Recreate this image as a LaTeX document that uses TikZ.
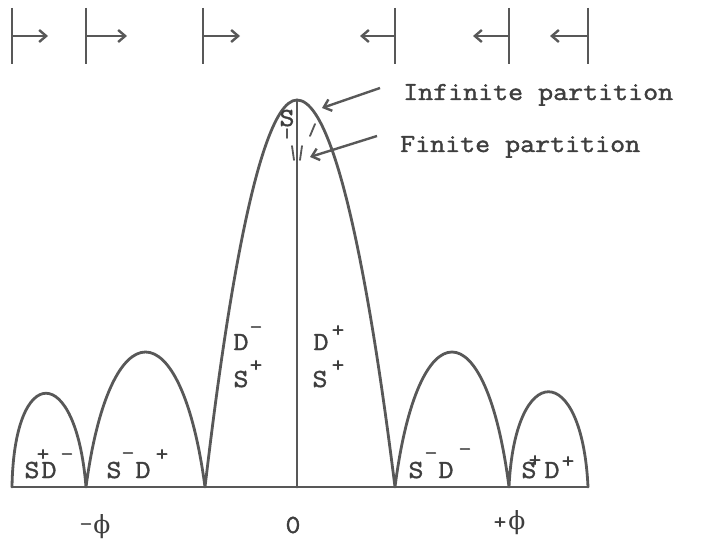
\documentclass[tikz,border=0pt]{standalone}
\usepackage{fontspec}
\newfontfamily\tw{Latin Modern Mono}[FakeStretch=1.12,FakeBold=1.5]
\newfontfamily\gk{DejaVu Serif}
\usetikzlibrary{arrows.meta}
\definecolor{ink}{HTML}{585858}
\definecolor{txt}{HTML}{3E3E3E}
\begin{document}
\begin{tikzpicture}[x=1pt,y=-1pt,
  curve/.style={draw=ink,line width=2.8pt,line join=round,line cap=round},
  tick/.style={draw=ink,line width=2.4pt},
  thin/.style={draw=ink,line width=1.8pt,line cap=round},
  barb/.style={-{Straight Barb[length=7pt,width=12pt,line width=2.4pt]}},
  lbl/.style={font=\fontsize{26}{30}\selectfont\tw,text=txt,inner sep=0pt},
  sgn/.style={font=\fontsize{22}{26}\selectfont\tw,text=txt,inner sep=0pt},
  grk/.style={font=\fontsize{25}{30}\selectfont\gk,text=txt,inner sep=0pt}]
\fill[white] (0,0) rectangle (703,545);
\useasboundingbox (0,0) rectangle (703,545);

% top markers
\foreach \x/\d [count=\i] in {12/36, 86/41, 203/37, 395/-35, 509/-36, 588/-38} {
  \coordinate (mt\i) at (\x,8);
  \coordinate (mb\i) at (\x,64);
  \coordinate (ms\i) at (\x,36);
  \coordinate (me\i) at (\x+\d,36);
  \draw[tick] (mt\i) -- (mb\i);
  \draw[tick,barb] (ms\i) -- (me\i);
}

% lobes
\coordinate (b0) at (12,487);
\coordinate (b1) at (86,487);
\coordinate (b2) at (205,487);
\coordinate (pk) at (297,100);
\coordinate (c0) at (297,487);
\coordinate (b3) at (395,487);
\coordinate (b4) at (509,487);
\coordinate (b5) at (588,487);
\draw[curve] (b0) -- (b5);
\draw[curve] (b0) .. controls (14,362) and (76,362) .. (b1)
  .. controls (110,307) and (181,307) .. (b2)
  parabola bend (pk) (b3)
  .. controls (418,307) and (486,307) .. (b4)
  .. controls (515,360) and (582,360) .. (b5);
\draw[curve] (pk) -- (c0);

% partition marks near the top
\draw[thin] (287,129) -- (287,138);
\draw[thin] (315,124) -- (310,136);
\draw[thin] (292,146) -- (294,160);
\draw[thin] (302,146) -- (300,160);

% labels with arrows
\node[lbl,anchor=base west] (inf) at (403,100) {Infinite partition};
\node[lbl,anchor=base west] (fin) at (400,152) {Finite partition};
\coordinate (ia) at (380,88);
\coordinate (it) at (322,108);
\coordinate (fa) at (377,136);
\coordinate (ft) at (310,157);
\draw[tick,barb] (ia) -- (it);
\draw[tick,barb] (fa) -- (ft);

% letters
\node[lbl,anchor=base] (stop) at (287,126) {S};
\node[lbl,anchor=base] (dl) at (241,350) {D};
\node[lbl,anchor=base] (sl) at (241,387) {S};
\node[lbl,anchor=base] (dr) at (321,350) {D};
\node[lbl,anchor=base] (sr) at (320,387) {S};
\node[lbl,anchor=base] (s1) at (32,478) {S};
\node[lbl,anchor=base] (d1) at (49,478) {D};
\node[lbl,anchor=base] (s2) at (114,478) {S};
\node[lbl,anchor=base] (d2) at (143,478) {D};
\node[lbl,anchor=base] (s3) at (416,478) {S};
\node[lbl,anchor=base] (d3) at (446,478) {D};
\node[lbl,anchor=base] (s4) at (529,478) {S};
\node[lbl,anchor=base] (d4) at (552,478) {D};

% signs
\node[sgn] (gdl) at (256,330) {–};
\node[sgn] (gsl) at (256,366) {+};
\node[sgn] (gdr) at (338,331) {+};
\node[sgn] (gsr) at (338,366) {+};
\node[sgn] (g1a) at (43,455) {+};
\node[sgn] (g1b) at (67,457) {–};
\node[sgn] (g2a) at (128,456) {–};
\node[sgn] (g2b) at (162,455) {+};
\node[sgn] (g3a) at (431,456) {–};
\node[sgn] (g3b) at (465,452) {–};
\node[sgn] (g4a) at (535,461) {+};
\node[sgn] (g4b) at (568,462) {+};

% axis labels
\node[sgn] (mn) at (86,527) {–};
\node[grk] (phl) at (102,527) {ϕ};
\node[lbl] (zero) at (293,525) {0};
\node[sgn] (pl) at (500,523) {+};
\node[grk] (phr) at (517,523) {ϕ};
\end{tikzpicture}
\end{document}
